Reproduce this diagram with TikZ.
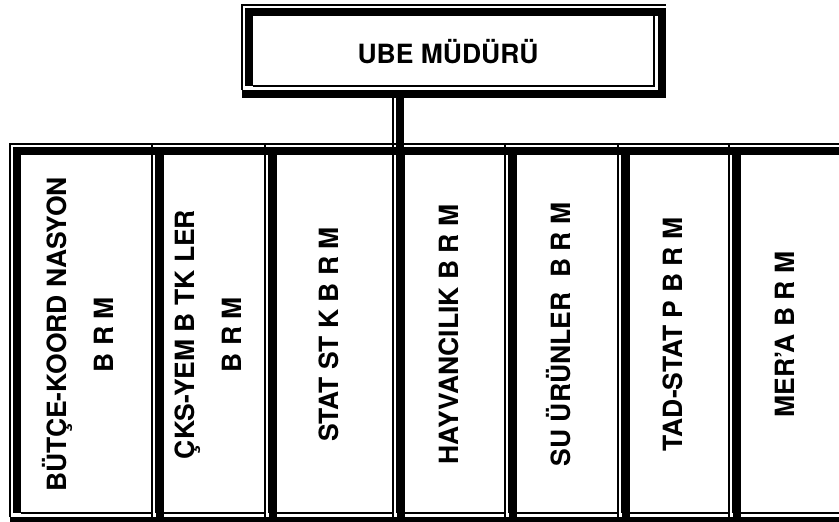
\documentclass[tikz,border=0pt]{standalone}
\usepackage{fontspec}
\setmainfont{TeX Gyre Heros}
\usepackage{graphicx}
\usepackage{tikz}
\usetikzlibrary{calc}
\newcommand\vtext[1]{\rotatebox{90}{\begin{tabular}{@{}c@{}}#1\end{tabular}}}
\tikzstyle{thinln}=[line width=1.5pt]
\tikzstyle{unit}=[inner sep=0pt,font=\bfseries\fontsize{26.5}{47}\selectfont]
\newcommand\dblframe[1]{%
  \draw[thinln] ($(#1.south west)+(0,-8)$) -- (#1.north west) -- ($(#1.north east)+(11.5,0)$);
  \draw[thinln] ($(#1.north east)+(0,11.5)$) -- ($(#1.south east)+(0,-12)$) -- ($(#1.south west)+(11.5,-12)$);
  \fill ($(#1.north west)+(3.5,3.5)$) rectangle ($(#1.north east)+(11.5,11.5)$);
  \fill ($(#1.north west)+(3.5,3.5)$) rectangle ($(#1.south west)+(11.5,-12)$);
  \fill ($(#1.north east)+(3.5,3.5)$) rectangle ($(#1.south east)+(11.5,0)$);
  \fill ($(#1.south west)+(0,-8)$) rectangle ($(#1.south east)+(11.5,0)$);
}
\begin{document}
\begin{tikzpicture}[x=1pt,y=-1pt]
  \useasboundingbox (0,0) rectangle (839,522);
  \node[unit,minimum width=412pt,minimum height=93pt] (mudur) at (448,51.5) {UBE MÜDÜRÜ};
  \node[unit,minimum width=142pt,minimum height=381pt] (butce) at (81,334.5) {\vtext{BÜTÇE-KOORD NASYON\\B R M}};
  \node[unit,minimum width=113pt,minimum height=381pt] (cks) at (208.5,334.5) {\vtext{ÇKS-YEM B TK LER\\B R M}};
  \node[unit,minimum width=128pt,minimum height=381pt] (statistik) at (329,334.5) {\vtext{STAT ST K B R M}};
  \node[unit,minimum width=112pt,minimum height=381pt] (hayvan) at (449,334.5) {\vtext{HAYVANCILIK B R M}};
  \node[unit,minimum width=113pt,minimum height=381pt] (suurun) at (561.5,334.5) {\vtext{SU ÜRÜNLER~~B R M}};
  \node[unit,minimum width=111pt,minimum height=381pt] (tadstat) at (673.5,334.5) {\vtext{TAD-STAT P B R M}};
  \node[unit,minimum width=112pt,minimum height=381pt] (mera) at (785,334.5) {\vtext{MER’A B R M}};
  \foreach \n in {mudur,butce,cks,statistik,hayvan,suurun,tadstat,mera} {\dblframe{\n}}
  \path (hayvan.north west) ++(11.5,3.5) coordinate (hb);
  \draw[thinln] (hayvan.north west) -- (hayvan.north west |- mudur.south);
  \fill ($(hayvan.north west)+(3.5,3.5)$) rectangle (hb |- mudur.south);
\end{tikzpicture}
\end{document}
